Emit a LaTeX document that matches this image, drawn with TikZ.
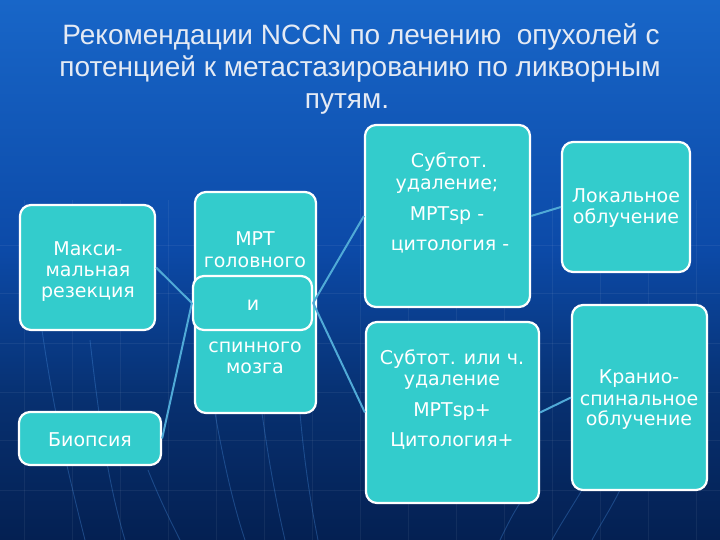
\documentclass[tikz,border=0pt]{standalone}
\usepackage{fontspec}
\setmainfont{DejaVu Sans}
\newfontfamily\titlefont{Liberation Sans}
\definecolor{bgtop}{RGB}{24,102,200}
\definecolor{bgmid}{RGB}{12,74,168}
\definecolor{bgmidb}{RGB}{7,48,112}
\definecolor{bgbot}{RGB}{4,32,82}
\definecolor{boxfill}{RGB}{51,204,204}
\definecolor{linkcol}{RGB}{80,170,215}
\definecolor{titlecol}{RGB}{228,234,244}
\definecolor{streakcol}{RGB}{70,140,220}
\pgfdeclareverticalshading{bgshade}{100bp}{color(0bp)=(bgbot); color(25bp)=(bgbot); color(38bp)=(bgmidb); color(52bp)=(bgmid); color(75bp)=(bgtop); color(100bp)=(bgtop)}
\begin{document}
\begin{tikzpicture}[x=1pt,y=-1pt,
  box/.style={draw=white, line width=2.2pt, fill=boxfill, rounded corners=11pt, inner sep=0pt},
  btxt/.style={text=white, anchor=base, inner sep=0pt, font=\fontsize{19}{22}\selectfont},
  ttl/.style={text=titlecol, anchor=base, inner sep=0pt, font=\titlefont\fontsize{28}{32}\selectfont},
  link/.style={draw=linkcol, line width=2pt},
  streak/.style={draw=streakcol, line width=0.9pt, opacity=0.35},
  gridl/.style={draw=white, line width=0.8pt, opacity=0.06}]
\useasboundingbox (0,0) rectangle (720,540);
\shade[shading=bgshade] (0,0) rectangle (720,540);
% faint grid
\foreach \yy in {245,293,343,392,440,490} {\draw[gridl] (0,\yy) -- (720,\yy);}
\foreach \xx in {24,72,...,720} {\draw[gridl] (\xx,200) -- (\xx,540);}
% streaks
\draw[streak] (42,330) .. controls (55,420) and (70,480) .. (85,540);
\draw[streak] (90,340) .. controls (100,430) and (110,490) .. (125,540);
\draw[streak] (148,470) .. controls (160,500) and (170,520) .. (180,540);
\draw[streak] (215,413) .. controls (225,470) and (235,510) .. (245,540);
\draw[streak] (262,413) .. controls (270,470) and (278,510) .. (285,540);
\draw[streak] (300,413) .. controls (305,470) and (312,510) .. (318,540);
\draw[streak] (582,490) .. controls (570,510) and (560,525) .. (552,540);
\draw[streak] (620,490) .. controls (610,510) and (600,525) .. (592,540);
\draw[streak] (520,503) .. controls (512,515) and (506,528) .. (500,540);
% title
\node[ttl] (title1) at (361,45) {Рекомендации NCCN по лечению \ опухолей с};
\node[ttl] (title2) at (360,77) {потенцией к метастазированию по ликворным};
\node[ttl] (title3) at (347,109) {путям.};
% boxes
\node[box, minimum width=135pt, minimum height=125pt] (maks) at (87.5,267.5) {};
\node[box, minimum width=142pt, minimum height=53pt] (biop) at (90,438.5) {};
\node[box, minimum width=121pt, minimum height=221pt] (mrt) at (255.5,302.5) {};
\node[box, minimum width=119pt, minimum height=54pt] (i) at (252.5,303) {};
\node[box, minimum width=165pt, minimum height=182pt] (sub1) at (447.5,216) {};
\node[box, minimum width=173pt, minimum height=181pt] (sub2) at (452.5,412.5) {};
\node[box, minimum width=128pt, minimum height=130pt] (lok) at (626,207) {};
\node[box, minimum width=135pt, minimum height=185pt] (kran) at (639.5,397.5) {};
% connectors
\draw[link] (maks.east) -- (i.west);
\draw[link] (biop.east) -- (i.west);
\draw[link] (i.east) -- (sub1.west);
\draw[link] (i.east) -- (sub2.west);
\draw[link] (sub1.east) -- (lok.west);
\draw[link] (sub2.east) -- (kran.west);
% texts
\node[btxt] (maks1) at (88,255) {Макси-};
\node[btxt] (maks2) at (88,276) {мальная};
\node[btxt] (maks3) at (88,297) {резекция};
\node[btxt] (biop1) at (90,446) {Биопсия};
\node[btxt] (mrt1) at (255,245) {МРТ};
\node[btxt] (mrt2) at (255,267) {головного};
\node[btxt] (i1) at (253,310) {и};
\node[btxt] (mrt3) at (255,352) {спинного};
\node[btxt] (mrt4) at (255,373) {мозга};
\node[btxt] (sub1a) at (449,168) {Субтот.};
\node[btxt] (sub1b) at (447,190) {удаление;};
\node[btxt] (sub1c) at (447,221) {МРТsp -};
\node[btxt] (sub1d) at (450,250) {цитология -};
\node[btxt] (sub2a) at (452,364) {Субтот. или ч.};
\node[btxt] (sub2b) at (452,385) {удаление};
\node[btxt] (sub2c) at (452,416) {МРТsp+};
\node[btxt] (sub2d) at (452,446) {Цитология+};
\node[btxt] (lok1) at (626,203) {Локальное};
\node[btxt] (lok2) at (626,224) {облучение};
\node[btxt] (kran1) at (639,383) {Кранио-};
\node[btxt] (kran2) at (639,405) {спинальное};
\node[btxt] (kran3) at (639,425) {облучение};
\end{tikzpicture}
\end{document}
